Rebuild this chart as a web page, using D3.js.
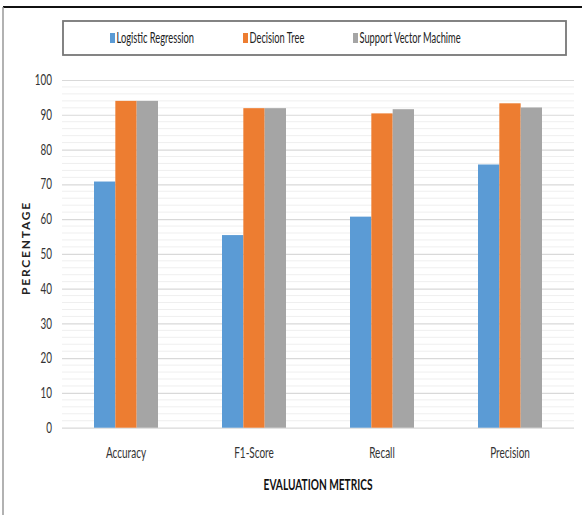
<!DOCTYPE html>
<html><head><meta charset="utf-8">
<script src="https://cdn.jsdelivr.net/npm/d3@7"></script>
<style>html,body{margin:0;padding:0;background:#fff}</style>
</head><body><svg id="c" width="582" height="515"></svg>
<script>
const categories = ["Accuracy", "F1-Score", "Recall", "Precision"];
const seriesNames = ["Logistic Regression", "Decision Tree", "Support Vector Machime"];
const logisticRegression = [70.8, 55.4, 60.7, 75.7];
const decisionTree = [94.0, 91.9, 90.4, 93.3];
const supportVectorMachine = [94.0, 91.9, 91.6, 92.1];
const yTicks = [0, 10, 20, 30, 40, 50, 60, 70, 80, 90, 100];
const colors = ["#5B9BD5", "#ED7D31", "#A5A5A5"];
const series = [logisticRegression, decisionTree, supportVectorMachine];

const svg = d3.select("#c");
const FONT = "Lato, 'Open Sans', sans-serif";
const SX = 0.72;

// frame
svg.append("line").attr("x1", 3).attr("x2", 582).attr("y1", 7).attr("y2", 7).attr("stroke", "#111").attr("stroke-width", 2);
svg.append("line").attr("x1", 3).attr("x2", 3).attr("y1", 7).attr("y2", 515).attr("stroke", "#999").attr("stroke-width", 1.5);

const L = 62, R = 574, T = 80, B = 427.7;
const x = d3.scaleBand().domain(categories).range([L, R]).paddingInner(0.5).paddingOuter(0.25);
const xs = d3.scaleBand().domain(d3.range(series.length)).range([0, x.bandwidth()]);
const y = d3.scaleLinear().domain([0, 100]).range([B, T]);

// minor gridlines
svg.append("g").selectAll("line").data(d3.range(0, 101, 2).filter(v => v % 10 !== 0)).join("line")
  .attr("x1", L).attr("x2", R).attr("y1", d => y(d)).attr("y2", d => y(d))
  .attr("stroke", "#efefef").attr("stroke-width", 1);
// major gridlines via axis
const yAxis = d3.axisLeft(y).tickValues(yTicks).tickSize(-(R - L)).tickFormat(d3.format("d"));
const ga = svg.append("g").attr("transform", `translate(${L},0)`).call(yAxis);
ga.select(".domain").remove();
ga.selectAll(".tick line").attr("stroke", "#d9d9d9").attr("stroke-width", 1.2);
ga.selectAll(".tick text").attr("x", 0).attr("fill", "#333").attr("font-family", FONT).attr("font-size", 14.5)
  .attr("text-anchor", "end").attr("transform", `translate(-10,0) scale(0.68,1)`);

// bars
const g = svg.append("g");
categories.forEach((c, i) => {
  series.forEach((s, j) => {
    g.append("rect")
      .attr("x", x(c) + xs(j)).attr("width", xs.bandwidth())
      .attr("y", y(s[i])).attr("height", y(0) - y(s[i]))
      .attr("fill", colors[j]);
  });
});

// x axis category labels
const xAxis = d3.axisBottom(x).tickSize(0).tickPadding(0);
const gx = svg.append("g").attr("transform", `translate(0,${B})`).call(xAxis);
gx.select(".domain").remove();
gx.selectAll(".tick text").attr("y", 0).attr("dy", 0).attr("fill", "#333").attr("font-family", FONT).attr("font-size", 14.5)
  .attr("transform", `translate(0,30) scale(0.69,1)`);

// axis titles
svg.append("text").attr("transform", `translate(${(L + R) / 2},490) scale(0.7,1)`).attr("text-anchor", "middle")
  .attr("font-family", FONT).attr("font-weight", "bold").attr("font-size", 14.5).attr("fill", "#111").text("EVALUATION METRICS");
svg.append("text").attr("transform", `translate(30,248) rotate(-90)`).attr("text-anchor", "middle")
  .attr("font-family", FONT).attr("font-weight", "bold").attr("font-size", 12).attr("letter-spacing", 1.8).attr("fill", "#222").text("PERCENTAGE");

// legend
svg.append("rect").attr("x", 63).attr("y", 21).attr("width", 503).attr("height", 34)
  .attr("fill", "#fff").attr("stroke", "#777").attr("stroke-width", 1.8);
const legX = [110, 243, 353];
const lg = svg.append("g").selectAll("g").data(seriesNames).join("g")
  .attr("transform", (d, i) => `translate(${legX[i]},0)`);
lg.append("rect").attr("x", 0).attr("y", 33).attr("width", 5).attr("height", 10).attr("fill", (d, i) => colors[i]);
lg.append("text").attr("transform", `translate(6.5,43) scale(0.6,1)`).attr("font-family", FONT).attr("font-size", 15.5)
  .attr("fill", "#222").text(d => d);
</script></body></html>
